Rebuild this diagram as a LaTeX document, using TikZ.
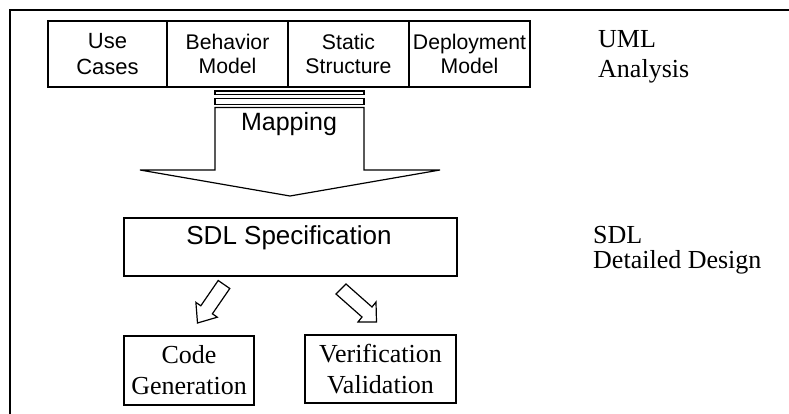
\documentclass[tikz,border=0pt]{standalone}
\usepackage{fontspec}
\setmainfont{Liberation Serif}
\newfontfamily\arialf{Liberation Sans}
\begin{document}
\begin{tikzpicture}[x=1pt,y=-1pt,
  ubox/.style={draw, line width=1.2pt, inner sep=0pt, align=center,
    font=\arialf\fontsize{21.2}{24}\selectfont, minimum height=66pt},
  tbox/.style={draw, line width=1.2pt, inner sep=0pt, align=center,
    font=\fontsize{26}{31}\selectfont},
  hollow/.style={draw, line width=1.2pt, line join=miter, fill=white},
  side/.style={inner sep=0pt, anchor=base west}]
\useasboundingbox (0,0) rectangle (789,414);
% outer frame
\draw[line width=1.5pt] (10,414) -- (10,10) -- (789,10);
% UML boxes
\node[ubox, minimum width=119pt, font=\arialf\fontsize{22}{26}\selectfont] (uc) at (107.5,54) {Use\\Cases};
\node[ubox, minimum width=121pt] (bm) at (227.5,54) {Behavior\\Model};
\node[ubox, minimum width=121pt] (ss) at (348.5,54) {Static\\Structure};
\node[ubox, minimum width=121pt] (dm) at (469.5,54) {Deployment\\Model};
% mapping arrow
\draw[hollow] (215,91) rectangle (364,94.5);
\draw[hollow] (215,98.5) rectangle (364,104.5);
\draw[hollow] (215,107.5) -- (364,107.5) -- (364,170) -- (440,170) -- (290,196)
  -- (140,170) -- (215,170) -- cycle;
\node[inner sep=0pt, anchor=base, font=\arialf\fontsize{25}{30}\selectfont] (map) at (289,131) {Mapping};
% SDL specification
\node[draw, line width=1.2pt, minimum width=333pt, minimum height=58pt, inner sep=0pt] (sdl) at (290.5,247) {};
\node[inner sep=0pt, anchor=base, font=\arialf\fontsize{26}{30}\selectfont] (sdlt) at (289,244) {SDL Specification};
% small arrows
\draw[hollow] (218.2,280.5) -- (229.8,288.5) -- (212.4,313.8) -- (217.3,317.2)
  -- (197.5,323) -- (195.9,302.4) -- (200.8,305.8) -- cycle;
\draw[hollow] (346,284) -- (372,307) -- (376,302) -- (376.5,322) -- (358,322)
  -- (362,317) -- (336,294) -- cycle;
% bottom boxes
\node[tbox, minimum width=130pt, minimum height=69pt] (cg) at (189,370.5) {Code\\Generation};
\node[tbox, minimum width=151pt, minimum height=68pt] (vv) at (380.5,369) {Verification\\Validation};
% side labels
\node[side, font=\fontsize{26}{30}\selectfont] (uml) at (598,47.3)
  {\renewcommand\arraystretch{1}\begin{tabular}[t]{@{}l@{}}UML\\Analysis\end{tabular}};
\node[side, font=\fontsize{26}{23}\selectfont] (sdll) at (593,243.3)
  {\renewcommand\arraystretch{1}\begin{tabular}[t]{@{}l@{}}SDL\\Detailed Design\end{tabular}};
\end{tikzpicture}
\end{document}
